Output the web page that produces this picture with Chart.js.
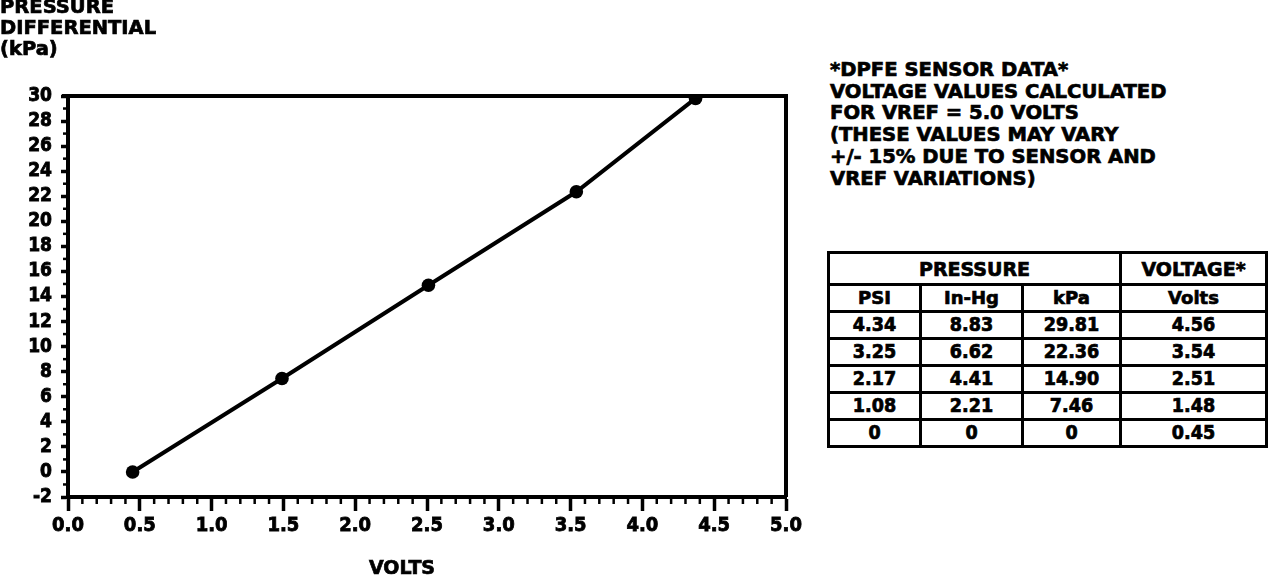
<!DOCTYPE html>
<html>
<head>
<meta charset="utf-8">
<script src="https://cdn.jsdelivr.net/npm/chart.js@4.4.1/dist/chart.umd.min.js"></script>
<style>
  html, body { margin: 0; padding: 0; background: #fff; }
  body { width: 1280px; height: 578px; position: relative; overflow: hidden;
         font-family: "DejaVu Sans", sans-serif; font-weight: bold; color: #000;
         -webkit-text-stroke: 0.7px #000; }
  #wrap { position: absolute; left: 0; top: 0; width: 820px; height: 578px; }
  .ytitle { position: absolute; left: 0; top: -4px; font-size: 19.5px; line-height: 21px; white-space: pre; }
  .note { position: absolute; left: 830px; top: 59px; font-size: 19.6px; line-height: 21.7px; white-space: pre; }
  .xtitle { position: absolute; left: 362px; top: 556px; width: 80px; text-align: center; font-size: 19px; line-height: 22px; }
  table { position: absolute; left: 827px; top: 251px; border-collapse: collapse; }
  td { border: 3px solid #000; text-align: center; padding: 0; height: 24px; line-height: 20px;
       font-family: "DejaVu Sans Condensed", "DejaVu Sans", sans-serif; font-size: 19.5px; }
  td.h { font-family: "DejaVu Sans", sans-serif; font-size: 19px; height: 29px; }
  td.s { font-family: "DejaVu Sans", sans-serif; font-size: 18px; }
</style>
</head>
<body>
<div id="wrap"><canvas id="c" width="820" height="578"></canvas></div>
<div class="ytitle" id="ytitle"></div>
<div class="note" id="note"></div>
<div class="xtitle" id="xtitle"></div>
<table id="tbl"></table>
<script>
// ---- data ----
const voltsPlotted = [0.45, 1.49, 2.51, 3.54, 4.37];
const kPaPlotted   = [0, 7.46, 14.90, 22.36, 29.81];
const xTickLabels  = ["0.0","0.5","1.0","1.5","2.0","2.5","3.0","3.5","4.0","4.5","5.0"];
const yTickLabels  = ["-2","0","2","4","6","8","10","12","14","16","18","20","22","24","26","28","30"];
const yTitleLines  = ["PRESSURE", "DIFFERENTIAL", "(kPa)"];
const xTitle       = "VOLTS";
const noteLines    = ["*DPFE SENSOR DATA*", "VOLTAGE VALUES CALCULATED", "FOR VREF = 5.0 VOLTS",
                      "(THESE VALUES MAY VARY", "+/- 15% DUE TO SENSOR AND", "VREF VARIATIONS)"];
const tableGroupHeaders = ["PRESSURE", "VOLTAGE*"];
const tableColHeaders   = ["PSI", "In-Hg", "kPa", "Volts"];
const tablePSI   = ["4.34", "3.25", "2.17", "1.08", "0"];
const tableInHg  = ["8.83", "6.62", "4.41", "2.21", "0"];
const tableKPa   = ["29.81", "22.36", "14.90", "7.46", "0"];
const tableVolts = ["4.56", "3.54", "2.51", "1.48", "0.45"];

// ---- html text ----
document.getElementById('ytitle').textContent = yTitleLines.join("\n");
document.getElementById('note').textContent = noteLines.join("\n");
document.getElementById('xtitle').textContent = xTitle;
const tbl = document.getElementById('tbl');
const colW = [89, 99, 95, 143];
let html = '<tr><td class="h" colspan="3">' + tableGroupHeaders[0] + '</td><td class="h" style="width:' + colW[3] + 'px">' + tableGroupHeaders[1] + '</td></tr>';
html += '<tr>' + tableColHeaders.map((h, i) => '<td class="s" style="width:' + colW[i] + 'px">' + h + '</td>').join('') + '</tr>';
for (let i = 0; i < tablePSI.length; i++) {
  html += '<tr><td>' + tablePSI[i] + '</td><td>' + tableInHg[i] + '</td><td>' + tableKPa[i] + '</td><td>' + tableVolts[i] + '</td></tr>';
}
tbl.innerHTML = html;

// ---- chart ----
const FONT = "'DejaVu Sans Condensed', 'DejaVu Sans', sans-serif";

const framePlugin = {
  id: 'frame',
  beforeDatasetsDraw(chart) {
    const { ctx, chartArea: a, scales } = chart;
    ctx.save();
    ctx.strokeStyle = '#000';
    ctx.lineWidth = 4;
    ctx.beginPath();
    ctx.moveTo(a.left - 6, a.top);
    ctx.lineTo(a.right, a.top);
    ctx.lineTo(a.right, a.bottom);
    ctx.stroke();
    // minor ticks x every 0.1
    ctx.lineWidth = 2.5;
    const xs = scales.x, ys = scales.y;
    for (let i = 0; i <= 50; i++) {
      if (i % 5 === 0) continue;
      const px = xs.getPixelForValue(i / 10);
      ctx.beginPath();
      ctx.moveTo(px, a.bottom);
      ctx.lineTo(px, a.bottom + 7);
      ctx.stroke();
    }
    // minor ticks y at odd values
    for (let v = -1; v < 30; v += 2) {
      const py = ys.getPixelForValue(v);
      ctx.beginPath();
      ctx.moveTo(a.left, py);
      ctx.lineTo(a.left - 5, py);
      ctx.stroke();
    }
    ctx.restore();
  }
};

new Chart(document.getElementById('c'), {
  type: 'scatter',
  data: {
    datasets: [{
      data: voltsPlotted.map((v, i) => ({ x: v, y: kPaPlotted[i] })),
      showLine: true,
      borderColor: '#000',
      backgroundColor: '#000',
      borderWidth: 4,
      pointRadius: 6.8,
      pointHoverRadius: 6.8,
      pointBackgroundColor: '#000',
      pointBorderWidth: 0,
      tension: 0
    }]
  },
  options: {
    responsive: false,
    animation: false,
    events: [],
    layout: { padding: { top: 96, right: 34, left: 0, bottom: 0 } },
    plugins: { legend: { display: false }, tooltip: { enabled: false } },
    scales: {
      x: {
        type: 'linear', min: 0, max: 5,
        afterFit(s) { s.height = 81; },
        ticks: {
          stepSize: 0.5, color: '#000', padding: 3, autoSkip: false, maxRotation: 0,
          textStrokeColor: '#000', textStrokeWidth: 0.8,
          font: { family: FONT, size: 20, weight: 'bold' },
          callback: (v, i) => xTickLabels[i]
        },
        grid: { drawOnChartArea: false, drawTicks: true, tickLength: 14, tickWidth: 3.5, tickColor: '#000' },
        border: { display: true, color: '#000', width: 4 }
      },
      y: {
        type: 'linear', min: -2, max: 30,
        afterFit(s) { s.width = 68; },
        ticks: {
          stepSize: 2, color: '#000', padding: 9, autoSkip: false,
          textStrokeColor: '#000', textStrokeWidth: 0.8,
          font: { family: FONT, size: 19, weight: 'bold', lineHeight: 1 },
          callback: (v, i) => yTickLabels[i]
        },
        grid: { drawOnChartArea: false, drawTicks: true, tickLength: 7, tickWidth: 3.5, tickColor: '#000' },
        border: { display: true, color: '#000', width: 4 }
      }
    }
  },
  plugins: [framePlugin]
});
</script>
</body>
</html>
